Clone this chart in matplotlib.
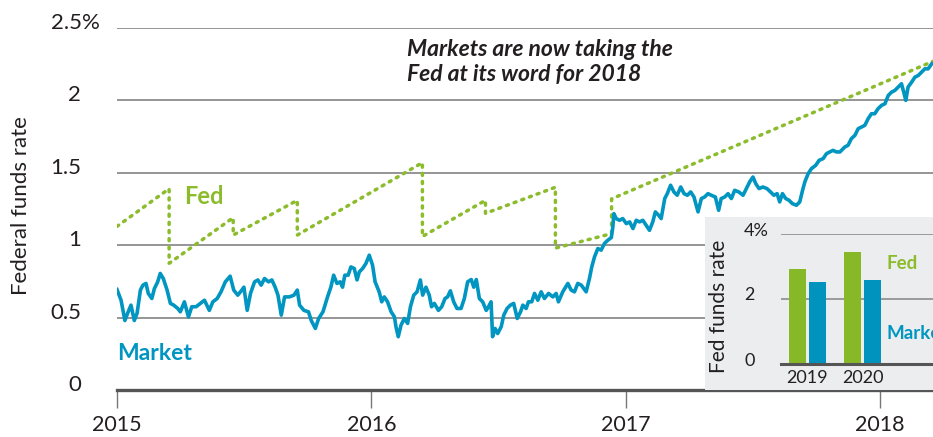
import matplotlib
matplotlib.use("Agg")
import matplotlib.pyplot as plt
from matplotlib.transforms import ScaledTranslation
import numpy as np

plt.rcParams['font.family'] = ['Lato', 'DejaVu Sans']

# ---------------- data ----------------
# years since 2015-01-01
market_t = [0.0, 0.016, 0.031, 0.044, 0.055, 0.068, 0.079, 0.092, 0.102, 0.114, 0.123, 0.137, 0.147,
            0.160, 0.170, 0.182, 0.197, 0.210, 0.223, 0.239, 0.249, 0.265, 0.281, 0.294, 0.311, 0.328,
            0.344, 0.363, 0.377, 0.394, 0.409, 0.426, 0.445, 0.459, 0.475, 0.491, 0.499, 0.512, 0.525,
            0.541, 0.554, 0.567, 0.580, 0.596, 0.609, 0.622, 0.633, 0.646, 0.659, 0.678, 0.696, 0.709,
            0.718, 0.735, 0.753, 0.764, 0.780, 0.793, 0.810,
            0.828, 0.841, 0.852, 0.865, 0.878, 0.887, 0.896, 0.909, 0.920, 0.933, 0.944, 0.953, 0.966,
            0.979, 0.992, 1.005, 1.015, 1.031, 1.041, 1.051, 1.064, 1.078, 1.091, 1.097, 1.106, 1.117,
            1.130, 1.143, 1.154, 1.167, 1.180, 1.193, 1.202, 1.215, 1.228, 1.237, 1.248, 1.264, 1.277,
            1.290, 1.300, 1.311, 1.324, 1.337, 1.353, 1.366, 1.379, 1.393, 1.403, 1.413, 1.425, 1.438,
            1.452, 1.461, 1.471, 1.477, 1.487, 1.497, 1.511, 1.521, 1.534, 1.547, 1.560, 1.574, 1.587,
            1.596, 1.609, 1.618, 1.631,
            1.642, 1.655, 1.668, 1.681, 1.697, 1.714, 1.727, 1.736, 1.753, 1.773, 1.786, 1.799, 1.812,
            1.826, 1.845, 1.858, 1.867, 1.878, 1.891, 1.904, 1.917, 1.930, 1.944, 1.950, 1.954, 1.963,
            1.976, 1.989, 2.003, 2.016, 2.029, 2.042, 2.055, 2.068, 2.081, 2.094, 2.107, 2.117, 2.130,
            2.140, 2.154, 2.164, 2.177, 2.190, 2.203, 2.217, 2.230, 2.243, 2.256, 2.269, 2.285, 2.298,
            2.311, 2.324, 2.337, 2.353, 2.366, 2.376, 2.390, 2.403, 2.416, 2.429, 2.445, 2.462, 2.475,
            2.488, 2.501, 2.512, 2.525, 2.540, 2.556, 2.570, 2.583, 2.596, 2.606, 2.617, 2.630, 2.643,
            2.656, 2.672, 2.685, 2.696, 2.705, 2.718, 2.731, 2.748, 2.761, 2.777, 2.790, 2.803, 2.816,
            2.829, 2.843, 2.862, 2.875, 2.888, 2.902, 2.915, 2.928, 2.941, 2.954, 2.967, 2.980, 2.993,
            3.007, 3.020, 3.033, 3.046, 3.059, 3.072, 3.085, 3.094, 3.102, 3.111, 3.125, 3.138, 3.151,
            3.164, 3.177, 3.190, 3.204]
market_v = [0.694, 0.62, 0.48, 0.54, 0.586, 0.48, 0.53, 0.69, 0.724, 0.736, 0.667, 0.632, 0.70,
            0.747, 0.805, 0.77, 0.69, 0.598, 0.586, 0.563, 0.54, 0.609, 0.505, 0.575, 0.575, 0.598,
            0.62, 0.55, 0.609, 0.632, 0.678, 0.747, 0.786, 0.69, 0.655, 0.69, 0.71, 0.55, 0.667,
            0.747, 0.76, 0.724, 0.77, 0.747, 0.76, 0.71, 0.655, 0.517, 0.643, 0.643, 0.655, 0.69,
            0.586, 0.55, 0.54, 0.48, 0.425, 0.494, 0.54,
            0.643, 0.71, 0.793, 0.736, 0.747, 0.71, 0.793, 0.793, 0.85, 0.839, 0.76, 0.816, 0.839,
            0.874, 0.931, 0.862, 0.747, 0.678, 0.609, 0.643, 0.609, 0.54, 0.505, 0.437, 0.368, 0.448,
            0.494, 0.46, 0.575, 0.655, 0.678, 0.76, 0.655, 0.71, 0.655, 0.575, 0.598, 0.55, 0.575,
            0.632, 0.643, 0.685, 0.609, 0.563, 0.563, 0.632, 0.747, 0.763, 0.71, 0.763, 0.632, 0.609,
            0.55, 0.575, 0.609, 0.368, 0.425, 0.39, 0.437, 0.517, 0.563, 0.586, 0.598, 0.494, 0.54,
            0.586, 0.563, 0.609, 0.609,
            0.667, 0.62, 0.678, 0.632, 0.667, 0.643, 0.667, 0.609, 0.678, 0.736, 0.69, 0.678, 0.736,
            0.724, 0.678, 0.77, 0.85, 0.92, 0.977, 0.966, 1.012, 1.034, 1.053, 1.126, 1.218, 1.184,
            1.172, 1.184, 1.149, 1.161, 1.115, 1.172, 1.161, 1.172, 1.138, 1.103, 1.161, 1.23, 1.207,
            1.184, 1.322, 1.356, 1.414, 1.368, 1.345, 1.402, 1.356, 1.345, 1.368, 1.333, 1.23, 1.322,
            1.333, 1.356, 1.345, 1.333, 1.241, 1.322, 1.333, 1.356, 1.322, 1.379, 1.368, 1.345, 1.391,
            1.437, 1.471, 1.425, 1.391, 1.402, 1.391, 1.368, 1.345, 1.356, 1.299, 1.356, 1.322, 1.31,
            1.287, 1.276, 1.299, 1.379, 1.437, 1.494, 1.529, 1.552, 1.586, 1.598, 1.632, 1.644, 1.655,
            1.644, 1.644, 1.678, 1.69, 1.736, 1.759, 1.805, 1.816, 1.828, 1.874, 1.908, 1.908, 1.943,
            1.966, 1.977, 2.034, 2.057, 2.069, 2.092, 2.115, 2.057, 2.0, 2.092, 2.126, 2.161, 2.172,
            2.195, 2.218, 2.218, 2.253]

fed_t = [0.0, 0.205, 0.205, 0.457, 0.457, 0.709, 0.709, 1.201, 1.201, 1.449, 1.449,
         1.724, 1.724, 1.945, 1.945, 3.209]
fed_v = [1.13, 1.39, 0.875, 1.19, 1.07, 1.31, 1.07, 1.57, 1.06, 1.31, 1.22,
         1.40, 0.98, 1.08, 1.32, 2.27]

year_ticks = [0, 1, 2, 3]
year_labels = ['2015', '2016', '2017', '2018']
y_ticks = [0, 0.5, 1, 1.5, 2, 2.5]
y_labels = ['0', '0.5', '1', '1.5', '2', '2.5%']

inset_years = ['2019', '2020']
inset_fed = [2.92, 3.45]
inset_market = [2.52, 2.60]
inset_yticks = [0, 2, 4]
inset_ylabels = ['0', '2', '4%']

annotation_lines = ['Markets are now taking the', 'Fed at its word for 2018']

GREEN = '#8CBC2C'
BLUE = '#0096C1'
GRID = '#8c8c8c'
AXIS = '#555555'
TXT = '#231f20'

W, H = 933, 437
fig = plt.figure(figsize=(W / 100, H / 100), dpi=100)

def fx(px):
    return px / W

def fy(py):
    return 1 - py / H

# ---------------- main axes ----------------
ax = fig.add_axes([fx(117), fy(390), fx(933) - fx(117), fy(28) - fy(390)])
ax.set_xlim(0, 3.209)
ax.set_ylim(0, 2.5)
for s in ['top', 'right', 'left']:
    ax.spines[s].set_visible(False)
ax.spines['bottom'].set_color(AXIS)
ax.spines['bottom'].set_linewidth(2.4)
ax.spines['bottom'].set_zorder(6)

ax.set_yticks(y_ticks)
ax.set_yticklabels(y_labels)
ax.tick_params(axis='y', length=0, pad=26, labelsize=16, labelcolor=TXT)
ax.yaxis.grid(True, color=GRID, linewidth=1.3)
ax.set_axisbelow(True)
for lab in ax.get_yticklabels():
    shift_x = 19 / 100 if lab.get_text().endswith('%') else 0
    lab.set_transform(lab.get_transform() + ScaledTranslation(shift_x, 7 / 100, fig.dpi_scale_trans))

ax.set_xticks(year_ticks)
ax.set_xticklabels(year_labels)
ax.tick_params(axis='x', length=13, width=1.0, color='#777777', pad=5, labelsize=15.5, labelcolor=TXT)

ax.set_ylabel('Federal funds rate', fontsize=16, color=TXT)
ax.yaxis.set_label_coords(-(117 - 31) / (933 - 117), 0.51)

ax.plot(fed_t, fed_v, color=GREEN, lw=2.5, linestyle=(0, (0.6, 1.75)), dash_capstyle='round', zorder=3)
ax.plot(market_t, market_v, color=BLUE, lw=2.6, zorder=4, solid_joinstyle='round')

ax.text(0.265, (390 - 197) / 144.8, 'Fed', color=GREEN, fontsize=17, fontweight='bold', ha='left', va='center')
ax.text(0.0, (390 - 353) / 144.8, 'Market', color=BLUE, fontsize=16.5, fontweight='bold', ha='left', va='center')
ax.text(1.14, (390 - 50) / 144.8, annotation_lines[0], fontsize=16.5,
        fontweight='bold', fontstyle='italic', color=TXT, ha='left', va='center')
ax.text(1.14, (390 - 74) / 144.8, annotation_lines[1], fontsize=16.5,
        fontweight='bold', fontstyle='italic', color=TXT, ha='left', va='center')

# ---------------- inset ----------------
bg = fig.add_axes([fx(705), fy(390), fx(933) - fx(705), fy(217) - fy(390)])
bg.set_facecolor('#ECEDEF')
bg.set_xticks([])
bg.set_yticks([])
for s in bg.spines.values():
    s.set_visible(False)
bg.set_zorder(5)

ia = fig.add_axes([fx(781), fy(364), fx(933) - fx(781), fy(234) - fy(364)])
ia.set_zorder(7)
ia.patch.set_alpha(0)
ia.set_ylim(0, 4)
x = np.arange(len(inset_years))
ia.set_xlim(-0.477, -0.477 + 152 / 55.5)
bw = 17 / 55.5
dx = 10 / 55.5
ia.bar(x - dx, inset_fed, width=bw, color='#86B828', zorder=3)
ia.bar(x + dx, inset_market, width=bw, color='#0093BE', zorder=3)
for s in ['top', 'right', 'left']:
    ia.spines[s].set_visible(False)
ia.spines['bottom'].set_color(AXIS)
ia.spines['bottom'].set_linewidth(2.2)
ia.spines['bottom'].set_zorder(4)
ia.set_yticks(inset_yticks)
ia.set_yticklabels(inset_ylabels)
ia.yaxis.grid(True, color=GRID, linewidth=1.2)
ia.set_axisbelow(True)
ia.tick_params(axis='y', length=0, pad=19, labelsize=13, labelcolor=TXT)
for lab in ia.get_yticklabels():
    shift_x = 14 / 100 if lab.get_text().endswith('%') else 0
    lab.set_transform(lab.get_transform() + ScaledTranslation(shift_x, 5 / 100, fig.dpi_scale_trans))
ia.set_xticks(x)
ia.set_xticklabels(inset_years)
ia.tick_params(axis='x', length=0, pad=4, labelsize=13, labelcolor=TXT)
ia.set_ylabel('Fed funds rate', fontsize=15, color=TXT)
ia.yaxis.set_label_coords(-(781 - 729) / 152, 0.44)
ia.text(1.43, 3.1, 'Fed', color=GREEN, fontsize=13.5, fontweight='bold', ha='left', va='center')
ia.text(1.43, 0.95, 'Market', color=BLUE, fontsize=13.5, fontweight='bold', ha='left', va='center',
        clip_on=False)

fig.savefig('out.png', dpi=100)
